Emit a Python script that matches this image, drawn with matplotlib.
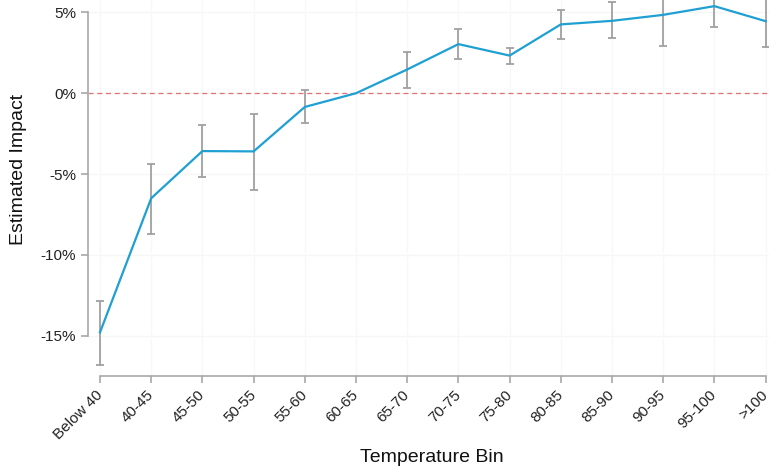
import matplotlib.pyplot as plt
import numpy as np

plt.rcParams['font.family'] = ['Liberation Sans', 'DejaVu Sans']

# temperature bins and estimated impact (%)
bins = ['Below 40', '40-45', '45-50', '50-55', '55-60', '60-65', '65-70',
        '70-75', '75-80', '80-85', '85-90', '90-95', '95-100', '>100']
impact = [-14.8, -6.5, -3.58, -3.6, -0.85, 0.0, 1.47,
          3.04, 2.33, 4.26, 4.48, 4.85, 5.39, 4.46]
ci_low = [-16.8, -8.7, -5.17, -5.97, -1.82, 0.0, 0.35,
          2.13, 1.82, 3.33, 3.39, 2.93, 4.07, 2.87]
ci_high = [-12.85, -4.4, -1.96, -1.28, 0.17, 0.0, 2.56,
           3.95, 2.83, 5.15, 5.62, 6.6, 6.7, 6.05]
yticks = [-15, -10, -5, 0, 5]

x = np.arange(len(bins))
impact = np.array(impact)
err = [impact - np.array(ci_low), np.array(ci_high) - impact]

fig = plt.figure(figsize=(7.69, 4.69), dpi=100)
ax = fig.add_axes([88 / 769, 1 - 376 / 469, 1 - 88 / 769, 376 / 469])

# faint grid
for yt in yticks:
    ax.axhline(yt, color='#f6f6f6', lw=1, zorder=0)
for xt in x:
    ax.axvline(xt, color='#f8f8f8', lw=1, zorder=0)

ax.axhline(0, color='#e07272', lw=0.9, ls=(0, (4, 3)), zorder=1)

# 60-65 is the reference bin, no error bar
sel = [i for i in x if ci_low[i] != ci_high[i]]
ax.errorbar(x[sel], impact[sel], yerr=[err[0][sel], err[1][sel]], fmt='none',
            ecolor='#a0a0a0', elinewidth=1.3, capsize=3, capthick=1.3, zorder=2)
ax.plot(x, impact, color='#1fa0d2', lw=1.6, zorder=3)

ax.set_xlim((88 - 100) / 51.2, (769 - 100) / 51.2)
ax.set_ylim(-17.5, 5.77)

ax.set_yticks(yticks)
ax.set_yticklabels([f'{v}%' for v in yticks])
ax.set_xticks(x)
ax.set_xticklabels(bins, rotation=45, ha='right', va='center', rotation_mode='anchor')

for s in ['top', 'right']:
    ax.spines[s].set_visible(False)
ax.spines['left'].set_bounds(-15, 5)
ax.spines['bottom'].set_bounds(0, 13)
for s in ['left', 'bottom']:
    ax.spines[s].set_color('#a8a8a8')
    ax.spines[s].set_linewidth(1.2)
ax.tick_params(axis='both', colors='#a8a8a8', length=5, width=1.2,
               labelcolor='#222222', labelsize=11)
ax.tick_params(axis='x', pad=7)

fig.text(432 / 769, 1 - 457 / 469, 'Temperature Bin', ha='center', va='center',
         fontsize=14, color='#111111')
fig.text(19 / 769, 1 - 169 / 469, 'Estimated Impact', ha='center', va='center',
         rotation=90, fontsize=14, color='#111111')

fig.savefig('out.png', dpi=100)
